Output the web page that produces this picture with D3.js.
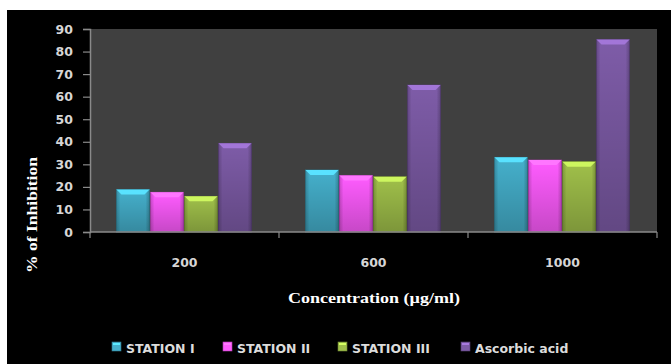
<!DOCTYPE html>
<html>
<head>
<meta charset="utf-8">
<script src="https://cdn.jsdelivr.net/npm/d3@7"></script>
<style>
  html, body { margin: 0; padding: 0; background: #ffffff; }
  svg { display: block; }
</style>
</head>
<body>
<svg id="chart" width="671" height="364"></svg>
<script>
// Concentration groups and per-series inhibition (%)
const categories = ["200", "600", "1000"];
const seriesNames = ["STATION I", "STATION II", "STATION III", "Ascorbic acid"];
const stationI   = [18.8, 27.5, 33.1];
const stationII  = [17.6, 25.1, 31.9];
const stationIII = [15.8, 24.5, 31.2];
const ascorbic   = [39.3, 65.2, 85.4];
const yTicks = [0, 10, 20, 30, 40, 50, 60, 70, 80, 90];

const seriesValues = [stationI, stationII, stationIII, ascorbic];
const colors = ["#45b0cc", "#ff5cff", "#a0c04a", "#7e5ca8"];

const svg = d3.select("#chart");

// black panel framing the chart
svg.append("rect").attr("x", 7).attr("y", 10).attr("width", 664).attr("height", 354).attr("fill", "#000");

const plot = { left: 90, right: 657, top: 29, bottom: 232 };

const x0 = d3.scaleBand().domain(categories).range([plot.left, plot.right])
  .paddingInner(0.28).paddingOuter(0.14);
const x1 = d3.scaleBand().domain(seriesNames).range([0, x0.bandwidth()]).padding(0);
const y = d3.scaleLinear().domain([0, 90]).range([plot.bottom, plot.top]);

// plot background
svg.append("rect").attr("x", plot.left).attr("y", plot.top)
  .attr("width", plot.right - plot.left).attr("height", plot.bottom - plot.top)
  .attr("fill", "#404040");

// gradients for bevelled bars
const defs = svg.append("defs");
colors.forEach((c, i) => {
  const base = d3.color(c);
  const g = defs.append("linearGradient").attr("id", "body" + i)
    .attr("x1", 0).attr("x2", 1).attr("y1", 0).attr("y2", 0);
  g.append("stop").attr("offset", "0%").attr("stop-color", base.darker(0.6));
  g.append("stop").attr("offset", "12%").attr("stop-color", base);
  g.append("stop").attr("offset", "88%").attr("stop-color", base);
  g.append("stop").attr("offset", "100%").attr("stop-color", base.darker(0.7));
  const v = defs.append("linearGradient").attr("id", "shade" + i)
    .attr("x1", 0).attr("x2", 0).attr("y1", 0).attr("y2", 1);
  v.append("stop").attr("offset", "0%").attr("stop-color", "#000").attr("stop-opacity", 0);
  v.append("stop").attr("offset", "100%").attr("stop-color", "#000").attr("stop-opacity", 0.22);
});

const rows = categories.map((c, ci) => ({
  cat: c,
  bars: seriesNames.map((s, si) => ({ s, si, v: seriesValues[si][ci] }))
}));

const groups = svg.append("g").selectAll("g").data(rows).join("g")
  .attr("transform", d => `translate(${x0(d.cat)},0)`);

const bar = groups.selectAll("g").data(d => d.bars).join("g");
const bw = x1.bandwidth() - 1;
const bev = 5;

bar.append("rect")
  .attr("x", d => x1(d.s)).attr("y", d => y(d.v))
  .attr("width", bw).attr("height", d => y(0) - y(d.v))
  .attr("fill", d => `url(#body${d.si})`)
  .attr("stroke", d => d3.color(colors[d.si]).darker(1.2)).attr("stroke-width", 0.8);
bar.append("rect")
  .attr("x", d => x1(d.s)).attr("y", d => y(d.v))
  .attr("width", bw).attr("height", d => y(0) - y(d.v))
  .attr("fill", d => `url(#shade${d.si})`);
// top bevel
bar.append("path")
  .attr("d", d => {
    const xl = x1(d.s), xr = xl + bw, yt = y(d.v);
    return `M${xl},${yt}L${xr},${yt}L${xr - bev},${yt + bev}L${xl + bev},${yt + bev}Z`;
  })
  .attr("fill", d => d3.color(colors[d.si]).brighter(0.7));

// axes
const axisColor = "#8a8a8a";
const yAxis = svg.append("g").attr("transform", `translate(${plot.left},0)`)
  .call(d3.axisLeft(y).tickValues(yTicks).tickSize(7).tickPadding(10));
yAxis.select(".domain").attr("stroke", axisColor).attr("stroke-width", 1.5);
yAxis.selectAll(".tick line").attr("stroke", axisColor).attr("stroke-width", 1.2);
yAxis.selectAll(".tick text")
  .attr("fill", "#d6d6d6").attr("font-family", "DejaVu Sans").attr("font-weight", "bold").attr("font-size", 12.5);

// x axis line with ticks at category boundaries
svg.append("line").attr("x1", plot.left).attr("x2", plot.right)
  .attr("y1", plot.bottom).attr("y2", plot.bottom).attr("stroke", axisColor).attr("stroke-width", 1.5);
const step = x0.step();
const bounds = d3.range(categories.length + 1).map(i => plot.left + i * step);
svg.append("g").selectAll("line").data(bounds).join("line")
  .attr("x1", d => d).attr("x2", d => d).attr("y1", plot.bottom).attr("y2", plot.bottom + 6)
  .attr("stroke", axisColor).attr("stroke-width", 1.2);
svg.append("g").selectAll("text").data(categories).join("text")
  .attr("x", d => x0(d) + x0.bandwidth() / 2).attr("y", 267)
  .attr("text-anchor", "middle").attr("fill", "#d6d6d6")
  .attr("font-family", "DejaVu Sans").attr("font-weight", "bold").attr("font-size", 12.5)
  .text(d => d);

// axis titles
svg.append("text").attr("x", 374).attr("y", 303).attr("text-anchor", "middle")
  .attr("fill", "#fff").attr("font-family", "Liberation Serif").attr("font-weight", "bold")
  .attr("font-size", 15).attr("textLength", 172).attr("lengthAdjust", "spacingAndGlyphs")
  .text("Concentration (µg/ml)");
svg.append("text").attr("transform", "translate(37,215) rotate(-90)").attr("text-anchor", "middle")
  .attr("fill", "#fff").attr("font-family", "Liberation Serif").attr("font-weight", "bold")
  .attr("font-size", 14).attr("textLength", 116).attr("lengthAdjust", "spacingAndGlyphs")
  .text("% of Inhibition");

// legend
const legendX = [112, 223, 338, 461];
const leg = svg.append("g").selectAll("g").data(seriesNames).join("g")
  .attr("transform", (d, i) => `translate(${legendX[i]},342)`);
leg.append("rect").attr("width", 9).attr("height", 9)
  .attr("fill", (d, i) => colors[i]).attr("stroke", (d, i) => d3.color(colors[i]).darker(1)).attr("stroke-width", 0.6);
leg.append("rect").attr("x", 1).attr("y", 1).attr("width", 7).attr("height", 2)
  .attr("fill", (d, i) => d3.color(colors[i]).brighter(0.8));
leg.append("text").attr("x", 14).attr("y", 10.5)
  .attr("fill", "#dcdcdc").attr("font-family", "DejaVu Sans").attr("font-weight", "bold").attr("font-size", 12.5)
  .text(d => d);
</script>
</body>
</html>
